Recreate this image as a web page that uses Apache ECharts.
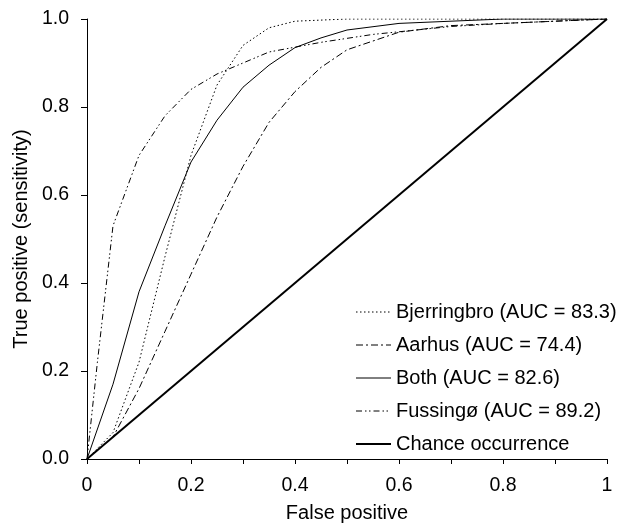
<!DOCTYPE html>
<html>
<head>
<meta charset="utf-8">
<script src="https://cdn.jsdelivr.net/npm/echarts@6/dist/echarts.min.js"></script>
<style>html,body{margin:0;padding:0;background:#fff;}#c{width:619px;height:528px;}</style>
</head>
<body>
<div id="c"></div>
<script>
// Data
var bjerringbroFP = [0, 0.05, 0.1, 0.15, 0.2, 0.25, 0.3, 0.35, 0.4, 0.5, 0.6, 0.8, 1];
var bjerringbroTP = [0, 0.06, 0.22, 0.46, 0.69, 0.85, 0.94, 0.98, 0.995, 1, 1, 1, 1];

var aarhusFP = [0, 0.05, 0.1, 0.15, 0.2, 0.25, 0.3, 0.35, 0.4, 0.45, 0.5, 0.6, 0.7, 0.8, 1];
var aarhusTP = [0, 0.05, 0.16, 0.29, 0.42, 0.55, 0.665, 0.765, 0.835, 0.89, 0.93, 0.97, 0.985, 0.99, 1];

var bothFP = [0, 0.05, 0.1, 0.15, 0.2, 0.25, 0.3, 0.35, 0.4, 0.45, 0.5, 0.6, 0.7, 0.8, 1];
var bothTP = [0, 0.17, 0.38, 0.53, 0.675, 0.77, 0.845, 0.895, 0.935, 0.957, 0.975, 0.99, 0.995, 1, 1];

var fussingoFP = [0, 0.02, 0.05, 0.1, 0.15, 0.2, 0.25, 0.3, 0.35, 0.45, 0.55, 0.7, 0.8, 1];
var fussingoTP = [0, 0.22, 0.53, 0.69, 0.78, 0.84, 0.875, 0.9, 0.925, 0.947, 0.965, 0.983, 0.99, 1];

var chanceFP = [0, 1];
var chanceTP = [0, 1];

var seriesNames = ['Bjerringbro (AUC = 83.3)', 'Aarhus (AUC = 74.4)', 'Both (AUC = 82.6)', 'Fussingø (AUC = 89.2)', 'Chance occurrence'];
var xTitle = 'False positive';
var yTitle = 'True positive (sensitivity)';

function pairs(xs, ys) { return xs.map(function (x, i) { return [x, ys[i]]; }); }

var FONT = 'Liberation Sans, Arial, sans-serif';
var chart = echarts.init(document.getElementById('c'), null, {renderer: 'canvas'});

var dashes = [[1.5, 2.5], [7, 3, 2, 3], 'solid', [6, 3, 1.5, 2.5, 1.5, 3], 'solid'];
var widths = [1, 1, 1, 1, 2];

function lineSeries(i, data) {
  return {
    name: seriesNames[i], type: 'line', data: data, symbol: 'none', showSymbol: false, smooth: false,
    lineStyle: {color: '#000', width: widths[i], type: dashes[i]},
    itemStyle: {color: '#000'},
    animation: false, z: widths[i] > 1 ? 3 : 2
  };
}

chart.setOption({
  animation: false,
  backgroundColor: '#fff',
  grid: {left: 87, right: 12, top: 19, bottom: 66, containLabel: false},
  legend: {
    show: true,
    orient: 'vertical', left: 355, top: 302, padding: 0,
    itemWidth: 35, itemHeight: 13, itemGap: 13,
    itemStyle: {opacity: 0},
    textStyle: {fontFamily: FONT, fontSize: 20, color: '#000'},
    data: seriesNames.map(function (n, i) {
      return {name: n, lineStyle: {width: widths[i], type: dashes[i], color: '#000'}};
    })
  },
  xAxis: {
    type: 'value', min: 0, max: 1, interval: 0.1,
    name: xTitle, nameLocation: 'middle', nameGap: 44,
    nameTextStyle: {fontFamily: FONT, fontSize: 20, color: '#000'},
    axisLine: {show: true, lineStyle: {color: '#000', width: 1}},
    axisTick: {show: true, length: 5, inside: false, lineStyle: {color: '#000'}},
    splitLine: {show: false},
    axisLabel: {
      margin: 17, fontFamily: FONT, fontSize: 19.5, color: '#000',
      formatter: function (v) {
        var k = Math.round(v * 10);
        if (k % 2) return '';
        if (k === 0) return '0';
        if (k === 10) return '1';
        return (k / 10).toFixed(1);
      }
    }
  },
  yAxis: {
    type: 'value', min: 0, max: 1, interval: 0.2,
    name: yTitle, nameLocation: 'middle', nameGap: 56, nameRotate: 90,
    nameTextStyle: {fontFamily: FONT, fontSize: 20, color: '#000'},
    axisLine: {show: true, lineStyle: {color: '#000', width: 1}},
    axisTick: {show: true, length: 6, inside: false, lineStyle: {color: '#000'}},
    splitLine: {show: false},
    axisLabel: {
      margin: 18, fontFamily: FONT, fontSize: 19.5, color: '#000',
      formatter: function (v) { return (Math.round(v * 10) / 10).toFixed(1); }
    }
  },
  series: [
    lineSeries(0, pairs(bjerringbroFP, bjerringbroTP)),
    lineSeries(1, pairs(aarhusFP, aarhusTP)),
    lineSeries(2, pairs(bothFP, bothTP)),
    lineSeries(3, pairs(fussingoFP, fussingoTP)),
    lineSeries(4, pairs(chanceFP, chanceTP))
  ]
});
</script>
</body>
</html>
